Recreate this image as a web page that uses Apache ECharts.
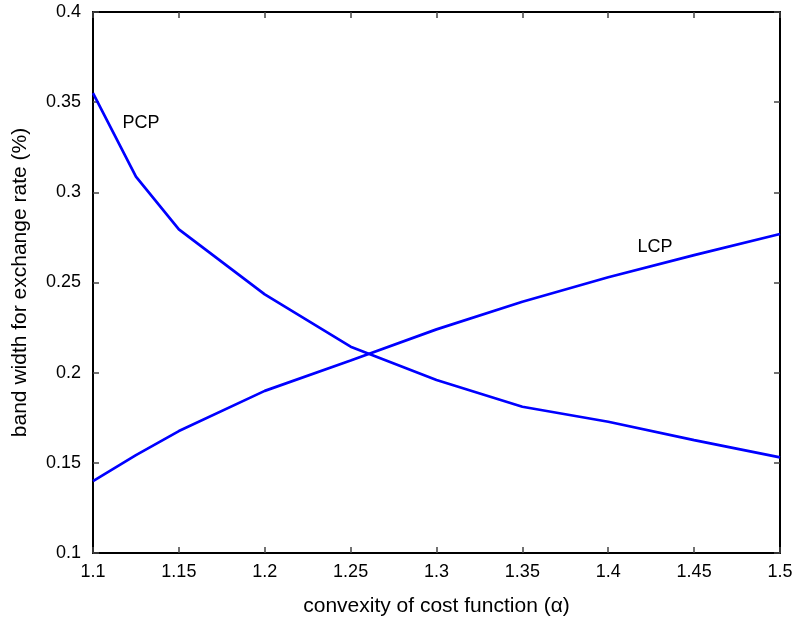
<!DOCTYPE html>
<html>
<head>
<meta charset="utf-8">
<script src="https://cdn.jsdelivr.net/npm/echarts@6/dist/echarts.min.js"></script>
<style>
html,body{margin:0;padding:0;background:#fff;}
#chart{width:795px;height:617px;}
</style>
</head>
<body>
<div id="chart"></div>
<script>
// Data
const alphaValues = [1.1, 1.125, 1.15, 1.2, 1.25, 1.3, 1.35, 1.4, 1.45, 1.5];
const pcpBand = [0.355, 0.3087, 0.2795, 0.2434, 0.2144, 0.1959, 0.1811, 0.1728, 0.1626, 0.153];
const lcpBand = [0.1399, 0.1543, 0.1676, 0.1899, 0.2068, 0.2240, 0.2393, 0.2529, 0.2652, 0.2769];
const xTickLabels = ['1.1','1.15','1.2','1.25','1.3','1.35','1.4','1.45','1.5'];
const yTickLabels = ['0.1','0.15','0.2','0.25','0.3','0.35','0.4'];
const seriesNames = ['PCP', 'LCP'];
const labelAnchors = { PCP: [1.128, 0.3384], LCP: [1.4272, 0.2697] };

const font = 'Liberation Sans, Arial, Helvetica, sans-serif';
function fmtX(v){ const i = Math.round((v - 1.1) / 0.05); return xTickLabels[i] !== undefined ? xTickLabels[i] : ''; }
function fmtY(v){ const i = Math.round((v - 0.1) / 0.05); return yTickLabels[i] !== undefined ? yTickLabels[i] : ''; }

const chart = echarts.init(document.getElementById('chart'), null, {renderer: 'canvas'});
const axisLine = {show: true, lineStyle: {color: '#000', width: 2}};
const tick = {show: true, inside: true, length: 6, lineStyle: {color: '#444', width: 1.5}};

function mkSeries(name, vals) {
  return {
    name: name,
    type: 'line',
    data: alphaValues.map((a, i) => [a, vals[i]]),
    showSymbol: false,
    symbol: 'none',
    lineStyle: {color: '#0000ff', width: 2.7},
    itemStyle: {color: '#0000ff'},
    animation: false,
    markPoint: {
      symbol: 'circle', symbolSize: 0,
      label: {show: true, formatter: name, color: '#000', fontSize: 18, fontFamily: font, position: 'inside'},
      data: [{coord: labelAnchors[name]}]
    }
  };
}

chart.setOption({
  animation: false,
  backgroundColor: '#fff',
  grid: {left: 93, right: 15, top: 12, bottom: 64, containLabel: false, outerBoundsMode: 'none'},
  xAxis: [{
    type: 'value', min: 1.1, max: 1.5, interval: 0.05, position: 'bottom',
    name: 'convexity of cost function (α)', nameLocation: 'middle', nameGap: 43,
    nameTextStyle: {color: '#000', fontSize: 21, fontFamily: font},
    axisLine: axisLine, axisTick: tick, splitLine: {show: false},
    axisLabel: {color: '#000', fontSize: 18, fontFamily: font, margin: 10, formatter: fmtX}
  }, {
    type: 'value', min: 1.1, max: 1.5, interval: 0.05, position: 'top',
    axisLine: axisLine, axisTick: tick, splitLine: {show: false}, axisLabel: {show: false}
  }],
  yAxis: [{
    type: 'value', min: 0.1, max: 0.4, interval: 0.05, position: 'left',
    name: 'band width for exchange rate (%)', nameLocation: 'middle', nameGap: 62,
    nameTextStyle: {color: '#000', fontSize: 21, fontFamily: font},
    axisLine: axisLine, axisTick: tick, splitLine: {show: false},
    axisLabel: {color: '#000', fontSize: 18, fontFamily: font, margin: 12, formatter: fmtY}
  }, {
    type: 'value', min: 0.1, max: 0.4, interval: 0.05, position: 'right',
    axisLine: axisLine, axisTick: tick, splitLine: {show: false}, axisLabel: {show: false}
  }],
  series: [mkSeries(seriesNames[0], pcpBand), mkSeries(seriesNames[1], lcpBand)]
});
</script>
</body>
</html>
